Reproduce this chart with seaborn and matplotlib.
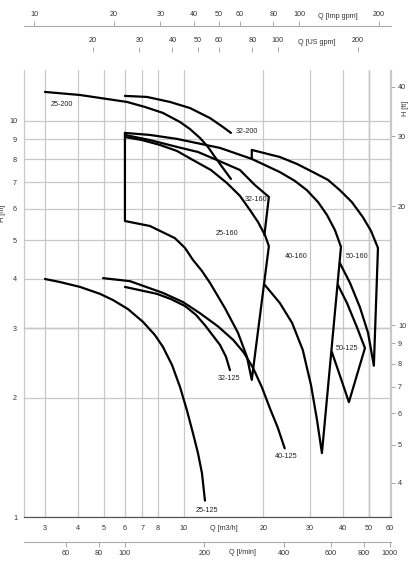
import matplotlib
matplotlib.use("Agg")
import matplotlib.pyplot as plt
import seaborn as sns
from matplotlib.ticker import NullLocator

# ---------------- data (Q in m3/h, H in m) ----------------
q_25_200 = [3.0, 4.07, 6.12, 7.15, 8.36, 9.70, 10.58, 11.54, 12.37, 13.14, 14.08, 15.1]
h_25_200 = [11.84, 11.63, 11.17, 10.85, 10.48, 9.94, 9.54, 9.06, 8.60, 8.11, 7.61, 7.14]

q_32_200 = [6.01, 7.28, 8.89, 10.58, 12.59, 14.08, 15.1]
h_32_200 = [11.57, 11.50, 11.17, 10.78, 10.17, 9.66, 9.33]

q_25_160 = [6.01, 6.01, 7.47, 9.28, 10.13, 10.85, 11.74, 12.59, 14.33, 16.05, 17.35, 18.1,
            21.0, 20.3, 19.1, 17.81, 16.33, 14.59, 12.69, 10.85, 9.45, 8.15, 6.97, 6.01]
h_25_160 = [9.33, 5.59, 5.43, 5.06, 4.78, 4.46, 4.18, 3.90, 3.37, 2.92, 2.54, 2.22,
            4.83, 5.15, 5.56, 5.96, 6.47, 6.97, 7.52, 7.97, 8.40, 8.70, 8.95, 9.11]

q_32_160 = [6.01, 7.47, 9.45, 11.34, 13.37, 16.33, 18.6, 21.0, 20.2]
h_32_160 = [9.22, 8.95, 8.60, 8.35, 7.97, 7.52, 6.89, 6.43, 5.15]

q_40_160 = [6.01, 7.47, 9.45, 13.73, 18.1, 23.1, 26.3, 29.2, 32.2, 34.8, 37.3, 39.3,
            33.3, 31.9, 30.3, 28.2, 25.7, 23.1, 20.3]
h_40_160 = [9.33, 9.22, 9.01, 8.55, 8.02, 7.43, 7.06, 6.69, 6.24, 5.79, 5.30, 4.81,
            1.45, 1.76, 2.15, 2.64, 3.09, 3.47, 3.85]

q_50_160 = [18.1, 18.1, 23.1, 26.8, 30.8, 35.1, 38.9, 43.2, 47.5, 51.0, 54.2,
            52.3, 49.7, 46.3, 42.5, 38.9]
h_50_160 = [8.02, 8.45, 8.11, 7.79, 7.43, 7.10, 6.69, 6.24, 5.72, 5.28, 4.78,
            2.41, 2.92, 3.39, 3.90, 4.38]

q_50_125 = [38.3, 41.4, 45.1, 48.4, 42.1, 38.9, 36.3]
h_50_125 = [3.85, 3.47, 3.02, 2.67, 1.95, 2.28, 2.61]

q_25_125 = [3.0, 3.42, 4.07, 4.84, 5.42, 6.17, 7.03, 7.80, 8.36, 9.05, 9.70, 10.3,
            10.85, 11.34, 11.74, 12.05]
h_25_125 = [3.99, 3.92, 3.81, 3.66, 3.53, 3.35, 3.11, 2.88, 2.69, 2.42, 2.13, 1.86,
            1.63, 1.45, 1.29, 1.10]

q_32_125 = [6.01, 7.94, 8.97, 10.13, 11.14, 12.05, 13.73, 14.46, 14.97]
h_32_125 = [3.81, 3.66, 3.55, 3.41, 3.24, 3.05, 2.72, 2.54, 2.35]

q_40_125 = [4.97, 6.28, 8.36, 9.95, 11.54, 13.49, 15.4, 16.9, 18.3, 19.8, 21.2, 22.7, 24.1]
h_40_125 = [4.01, 3.94, 3.68, 3.49, 3.27, 3.03, 2.80, 2.60, 2.38, 2.12, 1.88, 1.68, 1.49]

label_names = ["25-200", "32-200", "32-160", "25-160", "40-160", "50-160",
               "50-125", "32-125", "40-125", "25-125"]
label_q = [3.48, 17.35, 18.8, 14.6, 26.6, 45.1, 41.4, 14.84, 24.4, 12.26]
label_h = [11.0, 9.43, 6.32, 5.21, 4.56, 4.56, 2.66, 2.24, 1.42, 1.04]

q_ticks = [3, 4, 5, 6, 7, 8, 10, 20, 30, 40, 50, 60]
h_ticks = [1, 2, 3, 4, 5, 6, 7, 8, 9, 10]
ft_ticks = [4, 5, 6, 7, 8, 9, 10, 20, 30, 40]
imp_ticks = [10, 20, 30, 40, 50, 60, 80, 100, 200]
us_ticks = [20, 30, 40, 50, 60, 80, 100, 200]
lmin_ticks = [60, 80, 100, 200, 400, 600, 800, 1000]

curves = [(q_25_200, h_25_200), (q_32_200, h_32_200), (q_25_160, h_25_160),
          (q_32_160, h_32_160), (q_40_160, h_40_160), (q_50_160, h_50_160),
          (q_50_125, h_50_125), (q_25_125, h_25_125), (q_32_125, h_32_125),
          (q_40_125, h_40_125)]

# ---------------- style ----------------
sns.set_theme(style="white")
plt.rcParams["font.family"] = ["Liberation Sans", "DejaVu Sans"]

TXT = "#333333"
GRID = "#c8c8c8"
FS = 5.2

fig = plt.figure(figsize=(4.09, 5.61), dpi=100)
ax = fig.add_axes([24 / 409, 44 / 561, 367 / 409, 447 / 561])
ax.set_xscale("log")
ax.set_yscale("log")
ax.set_xlim(2.5, 60.7)
ax.set_ylim(1, 13.45)

ax.set_xticks(q_ticks)
ax.set_xticklabels([str(v) for v in q_ticks])
ax.set_yticks(h_ticks)
ax.set_yticklabels([str(v) for v in h_ticks])
ax.xaxis.set_minor_locator(NullLocator())
ax.yaxis.set_minor_locator(NullLocator())
ax.set_axisbelow(True)
ax.grid(True, which="major", color=GRID, lw=0.9)
ax.axhline(3, color="#888888", lw=0.9, zorder=0.5)
ax.axvline(50, color="#888888", lw=0.9, zorder=0.5)

ax.tick_params(axis="x", length=0, pad=6, labelsize=FS, labelcolor=TXT)
ax.tick_params(axis="y", length=3, color="#999999", width=0.6, pad=2,
               labelsize=FS, labelcolor=TXT)
for s in ["top", "right"]:
    ax.spines[s].set_visible(False)
ax.spines["left"].set_color(GRID)
ax.spines["left"].set_linewidth(0.9)
ax.spines["bottom"].set_color("#555555")
ax.spines["bottom"].set_linewidth(0.9)

for q, h in curves:
    sns.lineplot(x=q, y=h, sort=False, estimator=None, color="black",
                 lw=1.6, ax=ax, legend=False)
ax.set_xlabel("")
ax.set_ylabel("")

for name, q, h in zip(label_names, label_q, label_h):
    ax.text(q, h, name, ha="center", va="center", fontsize=FS, color="#222222")

# secondary axes
IMP = 3.6662
USG = 4.4029
LMIN = 16.6667
FT = 3.28084

def fmt_axis(sec, ticks, spine_vis, spine_name):
    sec.set_xticks(ticks)
    sec.set_xticklabels([str(v) for v in ticks])
    sec.xaxis.set_minor_locator(NullLocator())
    sec.tick_params(length=3.5, color="#999999", width=0.6, pad=2,
                    labelsize=FS, labelcolor=TXT)
    for s in sec.spines.values():
        s.set_visible(False)
    if spine_vis:
        sec.spines[spine_name].set_visible(True)
        sec.spines[spine_name].set_color("#aaaaaa")
        sec.spines[spine_name].set_linewidth(0.8)

sec_imp = ax.secondary_xaxis(1.0984, functions=(lambda x: x * IMP, lambda x: x / IMP))
fmt_axis(sec_imp, imp_ticks, True, "top")
sec_us = ax.secondary_xaxis(1.0403, functions=(lambda x: x * USG, lambda x: x / USG))
fmt_axis(sec_us, us_ticks, False, "top")
sec_l = ax.secondary_xaxis(-0.0559, functions=(lambda x: x * LMIN, lambda x: x / LMIN))
fmt_axis(sec_l, lmin_ticks, True, "bottom")

sec_ft = ax.secondary_yaxis("right", functions=(lambda m: m * FT, lambda f: f / FT))
sec_ft.set_yticks(ft_ticks)
sec_ft.set_yticklabels([str(v) for v in ft_ticks])
sec_ft.yaxis.set_minor_locator(NullLocator())
sec_ft.tick_params(length=3, color="#999999", width=0.6, pad=2,
                   labelsize=FS, labelcolor=TXT)
for s in sec_ft.spines.values():
    s.set_visible(False)
sec_ft.spines["right"].set_visible(True)
sec_ft.spines["right"].set_color(GRID)
sec_ft.spines["right"].set_linewidth(0.9)

# axis titles
def fy(py):
    return 1 - py / 561

fig.text(338 / 409, fy(16), "Q [Imp gpm]", ha="center", va="center", fontsize=FS, color=TXT)
fig.text(317 / 409, fy(42), "Q [US gpm]", ha="center", va="center", fontsize=FS, color=TXT)
fig.text(224 / 409, fy(528), "Q [m3/h]", ha="center", va="center", fontsize=FS, color=TXT)
fig.text(242 / 409, fy(553), "Q [l/min]", ha="center", va="center", fontsize=FS, color=TXT)
fig.text(2 / 409, fy(213), "H [m]", ha="center", va="center", rotation=90, fontsize=FS, color=TXT)
fig.text(405.5 / 409, fy(108), "H [ft]", ha="center", va="center", rotation=90, fontsize=FS, color=TXT)

fig.savefig("out.png", dpi=100)
